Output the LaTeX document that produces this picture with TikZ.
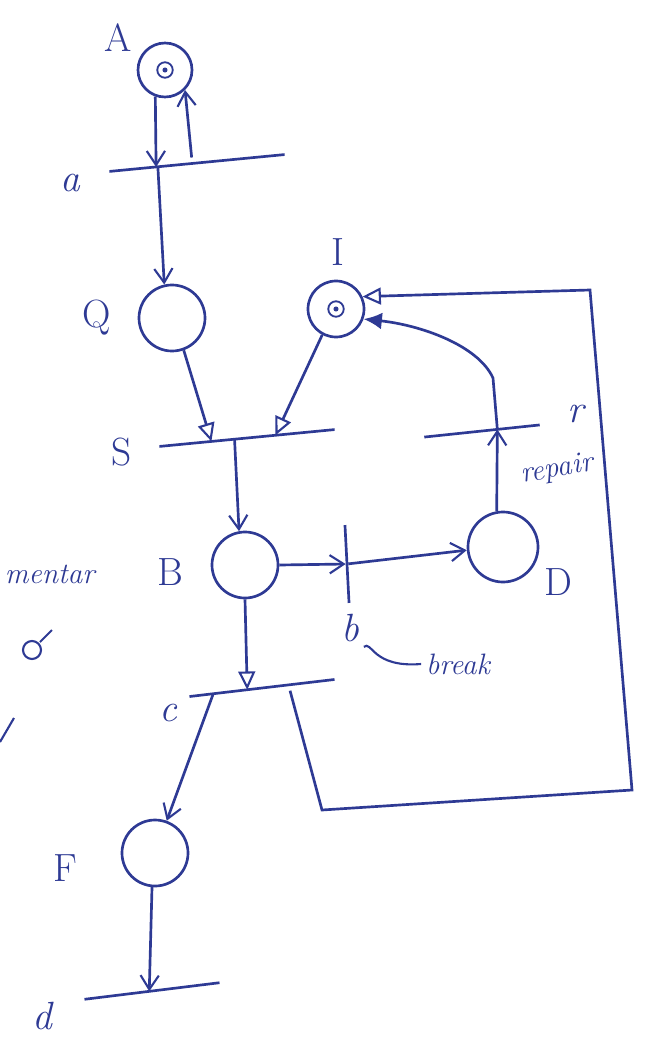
\documentclass[tikz,border=0pt]{standalone}
\usepackage{tikz}
\usetikzlibrary{arrows.meta,calc}
\definecolor{ink}{HTML}{2E3A94}

\tikzset{
  place/.style={circle, draw=ink, line width=1.9pt, inner sep=0pt},
  token/.style={circle, draw=ink, line width=1.3pt, minimum size=11pt, inner sep=0pt,
    path picture={\fill[ink] (path picture bounding box.center) circle (1.8pt);}},
  trans/.style={draw=ink, line width=1.9pt, inner sep=0pt, minimum height=0pt},
  arc/.style={ink, line width=1.9pt, -{Straight Barb[length=10pt,width=13pt,line width=1.5pt]}},
  openarc/.style={ink, line width=1.9pt, -{Triangle[open,length=13pt,width=12pt,line width=1.5pt]}},
  fullarc/.style={ink, line width=1.9pt, -{Latex[length=13pt,width=12pt]}},
  lbl/.style={text=ink, font=\fontsize{28}{30}\selectfont},
  note/.style={text=ink, font=\fontsize{21}{23}\selectfont\itshape},
}

\begin{document}
\begin{tikzpicture}[x=0.025cm, y=-0.025cm]
  \useasboundingbox (0,0) rectangle (646,1045);
  % Places
  \node[place, minimum size=1.35cm] (A) at (165,70) {};
  \node[place, minimum size=1.65cm] (Q) at (172,318) {};
  \node[place, minimum size=1.4cm] (I) at (336,309) {};
  \node[place, minimum size=1.65cm] (B) at (245,565) {};
  \node[place, minimum size=1.75cm] (D) at (503,547) {};
  \node[place, minimum size=1.65cm] (F) at (155,853) {};
  % Marken
  \node[token] at (A) {};
  \node[token] at (I) {};
  % Transitionen
  \node[trans, minimum width=4.4cm, rotate=5.5] (a) at (197,163) {};
  \node[trans, minimum width=4.4cm, rotate=5.5] (S) at (247,438) {};
  \node[trans, minimum width=2.9cm, rotate=6] (r) at (482,431) {};
  \node[trans, minimum width=1.95cm, rotate=93] (b) at (347,564) {};
  \node[trans, minimum width=3.65cm, rotate=6.7] (c) at (262,688) {};
  \node[trans, minimum width=3.4cm, rotate=7] (d) at (152,991) {};
  % Kanten
  \draw[arc] (A.-110) -- ($(a.west)!.27!(a.east)$);
  \draw[arc] ($(a.west)!.47!(a.east)+(0,-6)$) -- (A.-45);
  \draw[arc] ($(a.west)!.28!(a.east)$) -- (Q.103);
  \draw[openarc] (Q.-70) -- ($(S.west)!.3!(S.east)$);
  \draw[openarc] (I.-118) -- ($(S.west)!.66!(S.east)$);
  \draw[arc] ($(S.west)!.43!(S.east)$) -- (B.100);
  \draw[arc] (B.east) -- (b);
  \draw[arc] (b) -- (D.185);
  \draw[arc] (D.100) -- ($(r.west)!.63!(r.east)$);
  \draw[fullarc] ($(r.west)!.63!(r.east)$) -- (493,378)
    .. controls (478,345) and (420,325) .. (I.-20);
  \draw[openarc] (B.south) -- ($(c.west)!.4!(c.east)$);
  \draw[arc] ($(c.west)!.17!(c.east)$) -- (F.70);
  \draw[arc] (F.-95) -- ($(d.west)!.48!(d.east)$);
  \draw[openarc] ($(c.west)!.69!(c.east)+(0,6)$) -- (322,810) -- (632,790)
    -- (590,290) -- (I.25);
  % Beschriftungen
  \node[lbl] (lA) at (118,38) {A};
  \node[lbl] (la) at (70,183) {\itshape a};
  \node[lbl] (lQ) at (97,318) {Q};
  \node[lbl] (lI) at (338,252) {I};
  \node[lbl] (lS) at (122,452) {S};
  \node[lbl] (lB) at (170,572) {B};
  \node[lbl] (lb) at (350,628) {\itshape b};
  \node[lbl] (lD) at (558,582) {D};
  \node[lbl] (lr) at (576,414) {\itshape r};
  \node[lbl] (lc) at (168,713) {\itshape c};
  \node[lbl] (lF) at (65,868) {F};
  \node[lbl] (ld) at (42,1016) {\itshape d};
  \node[note] (brk) at (458,664) {break};
  \node[note, rotate=10] (rep) at (557,470) {repair};
  \draw[ink, line width=1.5pt] (lb.south east) .. controls (372,640) and (372,668) .. (brk.west);
  % Randnotizen
  \node[note, anchor=west] (mrg) at (0,574) {mentar};
  \draw[ink, line width=1.5pt] (32,650) circle (9) (40,642) -- (52,630);
  \draw[ink, line width=1.5pt] (0,742) -- (14,718);
\end{tikzpicture}
\end{document}
